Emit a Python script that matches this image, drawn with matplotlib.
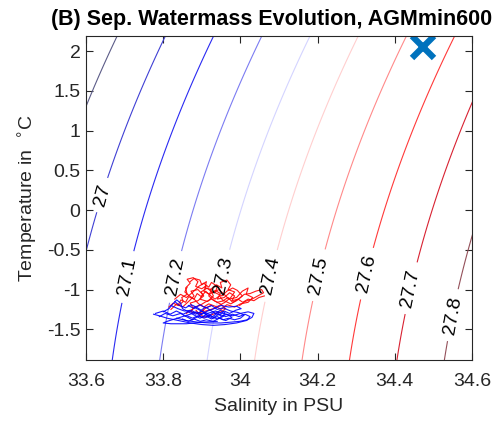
import numpy as np
import matplotlib
matplotlib.use("Agg")
import matplotlib.pyplot as plt

plt.rcParams['font.family'] = ['Liberation Sans', 'DejaVu Sans']
plt.rcParams['axes.unicode_minus'] = False

# Isopycnal levels (sigma-theta, kg/m^3) and their line colours
sigma_levels = [26.9, 27.0, 27.1, 27.2, 27.3, 27.4, 27.5, 27.6, 27.7, 27.8]
sigma_colors = ['#5c5c88', '#4040d4', '#2a2af2', '#7c7cf2', '#d4d4ff',
                '#ffcfcf', '#ff8a8a', '#ff3a3a', '#d82232', '#94505a']
label_spots = [(33.641, 0.19), (33.706, -0.84), (33.831, -0.84), (33.952, -0.82),
               (34.082, -0.83), (34.204, -0.82), (34.328, -0.80), (34.439, -0.98),
               (34.548, -1.32)]

# Axis ranges and ticks
s_lim = (33.6, 34.6)
t_lim = (-1.886, 2.19)
s_ticks = [33.6, 33.8, 34.0, 34.2, 34.4, 34.6]
s_ticklabels = ['33.6', '33.8', '34', '34.2', '34.4', '34.6']
t_ticks = [-1.5, -1, -0.5, 0, 0.5, 1, 1.5, 2]
t_ticklabels = ['-1.5', '-1', '-0.5', '0', '0.5', '1', '1.5', '2']

# Target water mass (salinity, temperature)
target_S = [34.473]
target_T = [2.05]

# Float trajectories in T-S space: first set (red)
red_S = [
    [33.840, 33.852, 33.848, 33.862, 33.858, 33.870, 33.862, 33.878, 33.890, 33.884,
     33.900, 33.912, 33.905, 33.920, 33.935, 33.948, 33.940, 33.958, 33.972, 33.985,
     33.978, 33.995, 34.010, 34.025, 34.040, 34.055, 34.060, 34.045, 34.030, 34.012, 33.998],
    [33.820, 33.835, 33.850, 33.868, 33.880, 33.872, 33.890, 33.902, 33.895, 33.915,
     33.930, 33.922, 33.938, 33.952, 33.948, 33.965, 33.975, 33.968, 33.985, 33.975,
     33.960, 33.945, 33.930, 33.910, 33.895, 33.885],
    [33.860, 33.878, 33.870, 33.890, 33.905, 33.898, 33.914, 33.928, 33.944, 33.958,
     33.970, 33.990, 34.005, 34.020, 34.015, 34.032, 34.020, 34.000, 33.985, 33.965,
     33.950, 33.935, 33.918, 33.905, 33.892, 33.880, 33.868, 33.856, 33.862],
    [33.830, 33.845, 33.860, 33.875, 33.892, 33.905, 33.918, 33.925, 33.940, 33.935,
     33.952, 33.965, 33.980, 33.992, 34.005, 33.990, 33.975, 33.958, 33.940, 33.925,
     33.908, 33.895, 33.880, 33.872, 33.890, 33.905],
    [33.815, 33.826, 33.838, 33.846, 33.858, 33.866, 33.880, 33.888, 33.899, 33.910,
     33.921, 33.934, 33.946, 33.955, 33.968, 33.980, 33.994, 34.006, 34.020, 34.035,
     34.048, 34.062],
    [33.870, 33.880, 33.895, 33.900, 33.912, 33.908, 33.925, 33.918, 33.932, 33.948,
     33.962, 33.950, 33.935, 33.918, 33.905, 33.895, 33.908, 33.925],
]
red_T = [
    [-1.20, -1.15, -1.10, -1.06, -0.98, -0.92, -0.87, -0.85, -0.90, -0.96,
     -0.99, -0.95, -1.02, -1.06, -1.01, -1.05, -1.12, -1.10, -1.04, -1.08,
     -1.14, -1.12, -1.06, -1.05, -1.02, -1.00, -1.04, -1.08, -1.12, -1.15, -1.20],
    [-1.25, -1.18, -1.22, -1.14, -1.08, -1.02, -1.00, -1.06, -1.12, -1.15,
     -1.08, -1.00, -0.94, -0.98, -0.91, -0.88, -0.94, -1.00, -1.03, -1.10,
     -1.16, -1.20, -1.24, -1.27, -1.32, -1.26],
    [-1.30, -1.24, -1.17, -1.14, -1.08, -1.03, -0.98, -1.04, -1.00, -1.06,
     -1.12, -1.10, -1.02, -0.98, -1.06, -1.10, -1.16, -1.18, -1.22, -1.19,
     -1.25, -1.21, -1.18, -1.22, -1.18, -1.12, -1.08, -1.03, -0.97],
    [-1.12, -1.06, -1.10, -1.04, -0.96, -0.92, -0.97, -0.91, -0.96, -1.04,
     -1.08, -1.02, -0.98, -1.01, -1.08, -1.14, -1.18, -1.14, -1.16, -1.12,
     -1.16, -1.20, -1.22, -1.28, -1.30, -1.26],
    [-1.22, -1.17, -1.20, -1.13, -1.16, -1.09, -1.12, -1.05, -1.09, -1.02,
     -1.07, -1.12, -1.08, -1.14, -1.10, -1.16, -1.12, -1.16, -1.12, -1.14,
     -1.10, -1.08],
    [-0.90, -0.86, -0.88, -0.94, -0.90, -0.98, -1.00, -1.08, -1.14, -1.18,
     -1.24, -1.28, -1.30, -1.33, -1.35, -1.30, -1.24, -1.20],
]

# Float trajectories in T-S space: second set (blue)
blue_S = [
    [33.775, 33.790, 33.810, 33.840, 33.870, 33.900, 33.930, 33.960, 33.990, 34.015,
     34.030, 34.035, 34.020, 34.000, 33.980, 33.955, 33.935, 33.915, 33.895, 33.880],
    [33.800, 33.815, 33.825, 33.835, 33.845, 33.850, 33.865, 33.880, 33.895, 33.910,
     33.925, 33.940, 33.955, 33.970, 33.985, 34.000, 34.010, 33.995, 33.975, 33.955,
     33.940, 33.925, 33.910, 33.895, 33.880, 33.865],
    [33.790, 33.805, 33.825, 33.845, 33.860, 33.875, 33.890, 33.905, 33.918, 33.930,
     33.945, 33.958, 33.972, 33.988, 34.002, 33.990, 33.970, 33.950, 33.932, 33.915,
     33.900, 33.885, 33.870, 33.850, 33.830, 33.810, 33.800, 33.820, 33.860, 33.900, 33.940],
    [33.820, 33.838, 33.855, 33.872, 33.888, 33.900, 33.914, 33.928, 33.942, 33.950,
     33.965, 33.978, 33.962, 33.945, 33.930, 33.912, 33.896, 33.880, 33.865, 33.850],
    [33.780, 33.800, 33.818, 33.834, 33.852, 33.868, 33.884, 33.900, 33.912, 33.928,
     33.944, 33.962, 33.980, 33.996, 34.012, 34.025, 34.018, 33.998, 33.975, 33.950,
     33.920, 33.890, 33.860, 33.835],
    [33.830, 33.842, 33.858, 33.872, 33.886, 33.898, 33.910, 33.922, 33.936, 33.948,
     33.960, 33.955, 33.940, 33.922, 33.906, 33.890, 33.876, 33.862],
]
blue_T = [
    [-1.31, -1.33, -1.36, -1.39, -1.42, -1.44, -1.45, -1.44, -1.42, -1.39,
     -1.35, -1.30, -1.28, -1.30, -1.33, -1.30, -1.27, -1.30, -1.26, -1.22],
    [-1.28, -1.24, -1.18, -1.13, -1.17, -1.24, -1.28, -1.32, -1.36, -1.33,
     -1.37, -1.34, -1.38, -1.36, -1.38, -1.36, -1.32, -1.29, -1.27, -1.23,
     -1.25, -1.20, -1.23, -1.19, -1.24, -1.20],
    [-1.34, -1.30, -1.33, -1.30, -1.34, -1.38, -1.34, -1.29, -1.33, -1.29,
     -1.32, -1.27, -1.30, -1.26, -1.24, -1.21, -1.22, -1.20, -1.24, -1.27,
     -1.31, -1.28, -1.31, -1.34, -1.37, -1.40, -1.42, -1.43, -1.43, -1.41, -1.40],
    [-1.20, -1.24, -1.27, -1.26, -1.30, -1.35, -1.30, -1.34, -1.29, -1.34,
     -1.31, -1.35, -1.39, -1.36, -1.40, -1.38, -1.40, -1.37, -1.40, -1.37],
    [-1.30, -1.27, -1.31, -1.27, -1.31, -1.27, -1.31, -1.27, -1.32, -1.36,
     -1.31, -1.34, -1.31, -1.34, -1.31, -1.34, -1.38, -1.40, -1.41, -1.42,
     -1.42, -1.41, -1.39, -1.36],
    [-1.15, -1.20, -1.23, -1.19, -1.22, -1.26, -1.22, -1.26, -1.30, -1.26,
     -1.29, -1.34, -1.37, -1.33, -1.36, -1.33, -1.36, -1.33],
]


def sigma0(S, T):
    """Potential density anomaly at the surface (UNESCO EOS-80)."""
    rho_w = (999.842594 + 6.793952e-2 * T - 9.095290e-3 * T**2
             + 1.001685e-4 * T**3 - 1.120083e-6 * T**4 + 6.536332e-9 * T**5)
    A = 8.24493e-1 - 4.0899e-3 * T + 7.6438e-5 * T**2 - 8.2467e-7 * T**3 + 5.3875e-9 * T**4
    B = -5.72466e-3 + 1.0227e-4 * T - 1.6546e-6 * T**2
    C = 4.8314e-4
    return rho_w + A * S + B * S**1.5 + C * S**2 - 1000.0


FS = 14

fig = plt.figure(figsize=(4.95, 4.24), dpi=100)
ax = fig.add_axes([86 / 495, 64 / 424, 386 / 495, 324 / 424])

sg, tg = np.meshgrid(np.linspace(33.5, 34.7, 400), np.linspace(-2.0, 2.3, 400))
cs = ax.contour(sg, tg, sigma0(sg, tg), levels=sigma_levels, colors=sigma_colors,
                linewidths=0.8)
ax.clabel(cs, inline=True, inline_spacing=6, fmt='%g',
          fontsize=FS, colors='black', manual=label_spots)

for s, t in zip(red_S, red_T):
    ax.plot(s, t, color='red', lw=0.8, alpha=0.9)
for s, t in zip(blue_S, blue_T):
    ax.plot(s, t, color='blue', lw=0.8, alpha=0.9)

ax.plot(target_S, target_T, linestyle='none', marker='x', color='#0072BD',
        markersize=16, markeredgewidth=4.5)

ax.set_xlim(*s_lim)
ax.set_ylim(*t_lim)
ax.set_xticks(s_ticks)
ax.set_xticklabels(s_ticklabels)
ax.set_yticks(t_ticks)
ax.set_yticklabels(t_ticklabels)
ax.tick_params(direction='in', top=True, right=True, length=5, width=0.8,
               labelsize=FS, colors='#262626')
ax.tick_params(axis='x', pad=9)
ax.tick_params(axis='y', pad=4)
for sp in ax.spines.values():
    sp.set_color('#262626')
    sp.set_linewidth(0.8)

ax.set_xlabel('Salinity in PSU', fontsize=FS, color='#262626', labelpad=6)
ax.set_ylabel('Temperature in  $^{\\circ}$C', fontsize=FS, color='#262626', labelpad=5)
ax.set_title('(B) Sep. Watermass Evolution, AGMmin600', fontsize=15.5,
             fontweight='bold', pad=8, x=0.482)

fig.savefig('out.png', dpi=100)
